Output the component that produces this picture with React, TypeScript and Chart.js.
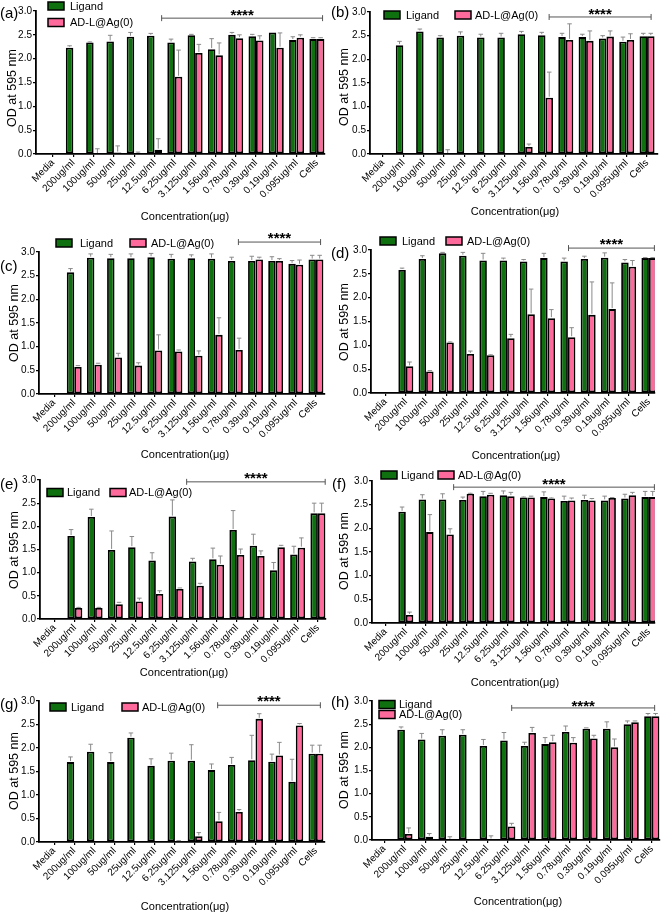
import React, { useEffect, useRef } from 'react';
import { Chart, registerables } from 'chart.js';

Chart.register(...registerables);

const FONT = "'Liberation Sans', Arial, Helvetica, sans-serif";
const GREEN = '#0e700e';
const PINK = '#ff6a9c';
const PAGE_W = 661;
const PAGE_H = 914;

const categories = [
  'Media', '200ug/ml', '100ug/ml', '50ug/ml', '25ug/ml', '12.5ug/ml', '6.25ug/ml',
  '3.125ug/ml', '1.56ug/ml', '0.78ug/ml', '0.39ug/ml', '0.19ug/ml', '0.095ug/ml', 'Cells',
];
const seriesNames = ['Ligand', 'AD-L@Ag(0)'];
const yTickStep = 0.5;
const yMax = 3.0;
const xTitle = 'Concentration(\u03bcg)';
const yTitle = 'OD at 595 nm';
const sigText = '****';

// (a)
const ligandA = [null, 2.23, 2.34, 2.36, 2.46, 2.48, 2.34, 2.49, 2.20, 2.50, 2.47, 2.55, 2.39, 2.41];
const ligandAErr = [0, 0.04, 0.01, 0.13, 0.09, 0.05, 0.07, 0.02, 0.22, 0.05, 0.04, 0.0, 0.07, 0.03];
const agA = [null, 0, 0, 0.03, 0, 0.09, 1.62, 2.12, 2.07, 2.43, 2.38, 2.23, 2.44, 2.41];
const agAErr = [0, 0, 0.11, 0.14, 0.04, 0.23, 0.56, 0.18, 0.26, 0.07, 0.10, 0.31, 0.06, 0.03];
// (b)
const ligandB = [null, 2.30, 2.59, 2.46, 2.50, 2.46, 2.46, 2.53, 2.51, 2.47, 2.47, 2.44, 2.37, 2.49];
const ligandBErr = [0, 0.08, 0.05, 0.04, 0.08, 0.07, 0.09, 0.06, 0.06, 0.08, 0.06, 0.06, 0.10, 0.06];
const agB = [null, 0, 0, 0, 0, 0, 0, 0.15, 1.19, 2.41, 2.39, 2.48, 2.41, 2.49];
const agBErr = [0, 0, 0, 0.09, 0, 0, 0, 0.06, 0.54, 0.34, 0.21, 0.12, 0.13, 0.06];
// (c)
const ligandC = [null, 2.57, 2.88, 2.87, 2.87, 2.89, 2.86, 2.87, 2.86, 2.81, 2.81, 2.81, 2.75, 2.84];
const ligandCErr = [0, 0.08, 0.08, 0.08, 0.09, 0.08, 0.09, 0.07, 0.10, 0.08, 0.10, 0.09, 0.07, 0.09];
const agC = [null, 0.57, 0.62, 0.77, 0.60, 0.92, 0.90, 0.81, 1.25, 0.93, 2.84, 2.81, 2.73, 2.84];
const agCErr = [0, 0.03, 0.03, 0.09, 0.06, 0.33, 0.03, 0.10, 0.36, 0.25, 0.05, 0.05, 0.10, 0.09];
// (d)
const ligandD = [null, 2.58, 2.81, 2.93, 2.88, 2.78, 2.78, 2.76, 2.83, 2.76, 2.81, 2.84, 2.74, 2.83];
const ligandDErr = [0, 0.04, 0.07, 0.02, 0.07, 0.15, 0.05, 0.04, 0.10, 0.07, 0.06, 0.10, 0.06, 0.01];
const agD = [null, 0.56, 0.45, 1.06, 0.82, 0.79, 1.15, 1.65, 1.57, 1.17, 1.64, 1.76, 2.65, 2.83];
const agDErr = [0, 0.09, 0.02, 0.01, 0.06, 0.01, 0.08, 0.53, 0.18, 0.20, 0.69, 0.55, 0.13, 0.01];
// (e)
const ligandE = [null, 1.79, 2.20, 1.49, 1.55, 1.26, 2.21, 1.24, 1.29, 1.92, 1.58, 1.05, 1.39, 2.28];
const ligandEErr = [0, 0.14, 0.17, 0.41, 0.23, 0.17, 0.36, 0.07, 0.24, 0.42, 0.25, 0.17, 0.18, 0.22];
const agE = [null, 0.24, 0.24, 0.32, 0.38, 0.54, 0.65, 0.72, 1.17, 1.38, 1.36, 1.55, 1.54, 2.28];
const agEErr = [0, 0.01, 0.01, 0.04, 0.07, 0.07, 0.02, 0.05, 0.19, 0.13, 0.11, 0.04, 0.21, 0.22];
// (f)
const ligandF = [null, 2.35, 2.61, 2.61, 2.60, 2.68, 2.70, 2.65, 2.66, 2.58, 2.60, 2.59, 2.63, 2.66];
const ligandFErr = [0, 0.10, 0.10, 0.12, 0.06, 0.10, 0.09, 0.01, 0.11, 0.10, 0.10, 0.09, 0.09, 0.12];
const agF = [null, 0.17, 1.92, 1.87, 2.73, 2.71, 2.68, 2.65, 2.63, 2.59, 2.59, 2.64, 2.70, 2.66];
const agFErr = [0, 0.06, 0.37, 0.12, 0.01, 0.03, 0.08, 0.03, 0.01, 0.05, 0.04, 0.01, 0.06, 0.12];
// (g)
const ligandG = [null, 1.70, 1.92, 1.70, 2.22, 1.62, 1.73, 1.73, 1.53, 1.64, 1.74, 1.71, 1.28, 1.88];
const ligandGErr = [0, 0.11, 0.16, 0.20, 0.10, 0.15, 0.16, 0.34, 0.13, 0.16, 0.53, 0.16, 0.48, 0.18];
const agG = [null, 0, 0, 0, 0, 0, 0, 0.12, 0.44, 0.64, 2.62, 1.84, 2.48, 1.88];
const agGErr = [0, 0, 0, 0, 0, 0, 0.03, 0.08, 0.19, 0.05, 0.11, 0.28, 0.04, 0.18];
// (h)
const ligandH = [null, 2.38, 2.17, 2.25, 2.27, 2.03, 2.15, 2.03, 2.07, 2.33, 2.40, 2.40, 2.50, 2.67];
const ligandHErr = [0, 0.06, 0.13, 0.13, 0.11, 0.14, 0.17, 0.08, 0.14, 0.13, 0.02, 0.15, 0.07, 0.06];
const agH = [null, 0.13, 0.07, 0, 0, 0.01, 0.29, 2.31, 2.11, 2.10, 2.19, 2.00, 2.54, 2.67];
const agHErr = [0, 0.13, 0.07, 0.07, 0, 0.08, 0.07, 0.12, 0.15, 0.11, 0.07, 0.18, 0.03, 0.06];

// significance bars: [from category, to category, line value, star value]
const sigA = [5.35, 13.28, 2.85, 2.985];
const sigB = [8.18, 13.2, 2.895, 3.04];
const sigC = [9.15, 13.23, 3.21, 3.37];
const sigD = [9.03, 13.27, 3.04, 3.21];
const sigE = [6.52, 13.36, 2.96, 3.13];
const sigF = [3.36, 13.27, 2.87, 3.02];
const sigG = [8.12, 13.22, 2.91, 3.08];
const sigH = [6.19, 13.14, 2.85, 2.98];

type LegendItem = { bx: number; by: number; tx: number };
type Panel = {
  letter: string;
  ligand: (number | null)[];
  ligandErr: number[];
  ag: (number | null)[];
  agErr: number[];
  sig: number[];
  area: { left: number; right: number; top: number; bottom: number };
  xMin: number;
  xMax: number;
  label: { x: number; y: number };
  legend: LegendItem[];
  xTitlePos: { x: number; y: number };
  yTitlePos: { x: number; y: number };
};

const panels: Panel[] = [
  {
    letter: '(a)', ligand: ligandA, ligandErr: ligandAErr, ag: agA, agErr: agAErr, sig: sigA,
    area: { left: 36, right: 325, top: 11, bottom: 154 }, xMin: -0.84, xMax: 13.4,
    label: { x: 0, y: 14 },
    legend: [{ bx: 48, by: 6, tx: 70 }, { bx: 48, by: 22.5, tx: 70 }],
    xTitlePos: { x: 185, y: 217 }, yTitlePos: { x: 13, y: 88 },
  },
  {
    letter: '(b)', ligand: ligandB, ligandErr: ligandBErr, ag: agB, agErr: agBErr, sig: sigB,
    area: { left: 370, right: 658, top: 12, bottom: 154 }, xMin: -0.64, xMax: 13.54,
    label: { x: 331, y: 12.5 },
    legend: [{ bx: 384, by: 15, tx: 406 }, { bx: 455, by: 15, tx: 475 }],
    xTitlePos: { x: 515, y: 212 }, yTitlePos: { x: 345, y: 87 },
  },
  {
    letter: '(c)', ligand: ligandC, ligandErr: ligandCErr, ag: agC, agErr: agCErr, sig: sigC,
    area: { left: 39, right: 325, top: 252, bottom: 394 }, xMin: -0.75, xMax: 13.45,
    label: { x: 0, y: 266.5 },
    legend: [{ bx: 56, by: 243, tx: 80 }, { bx: 130, by: 243, tx: 151 }],
    xTitlePos: { x: 185, y: 455 }, yTitlePos: { x: 15, y: 323 },
  },
  {
    letter: '(d)', ligand: ligandD, ligandErr: ligandDErr, ag: agD, agErr: agDErr, sig: sigD,
    area: { left: 371, right: 655, top: 250, bottom: 393 }, xMin: -0.72, xMax: 13.3,
    label: { x: 331, y: 253.5 },
    legend: [{ bx: 380, by: 241, tx: 402 }, { bx: 446, by: 241, tx: 467 }],
    xTitlePos: { x: 516, y: 456 }, yTitlePos: { x: 345, y: 322 },
  },
  {
    letter: '(e)', ligand: ligandE, ligandErr: ligandEErr, ag: agE, agErr: agEErr, sig: sigE,
    area: { left: 40, right: 326, top: 480, bottom: 619 }, xMin: -0.72, xMax: 13.4,
    label: { x: 0, y: 485 },
    legend: [{ bx: 47, by: 492.5, tx: 67 }, { bx: 110, by: 492.5, tx: 129 }],
    xTitlePos: { x: 184, y: 673 }, yTitlePos: { x: 15, y: 550 },
  },
  {
    letter: '(f)', ligand: ligandF, ligandErr: ligandFErr, ag: agF, agErr: agFErr, sig: sigF,
    area: { left: 372, right: 655, top: 481, bottom: 623 }, xMin: -0.67, xMax: 13.3,
    label: { x: 332, y: 485 },
    legend: [{ bx: 381, by: 475, tx: 401 }, { bx: 438, by: 475, tx: 458 }],
    xTitlePos: { x: 515, y: 683 }, yTitlePos: { x: 345, y: 551 },
  },
  {
    letter: '(g)', ligand: ligandG, ligandErr: ligandGErr, ag: agG, agErr: agGErr, sig: sigG,
    area: { left: 39, right: 325, top: 701, bottom: 842 }, xMin: -0.75, xMax: 13.45,
    label: { x: 0, y: 705 },
    legend: [{ bx: 50, by: 707, tx: 71 }, { bx: 122, by: 707, tx: 142 }],
    xTitlePos: { x: 185, y: 907 }, yTitlePos: { x: 15, y: 771 },
  },
  {
    letter: '(h)', ligand: ligandH, ligandErr: ligandHErr, ag: agH, agErr: agHErr, sig: sigH,
    area: { left: 372, right: 660, top: 701, bottom: 840 }, xMin: -0.6, xMax: 13.4,
    label: { x: 331, y: 702.5 },
    legend: [{ bx: 379, by: 704.5, tx: 399 }, { bx: 379, by: 714.5, tx: 399 }],
    xTitlePos: { x: 518, y: 902 }, yTitlePos: { x: 345, y: 770 },
  },
];

const Y_AXIS_W = 30;
const X_AXIS_H = 60;

function toPoints(vals: (number | null)[], errs: number[]) {
  const pts: { x: number; y: number; e: number }[] = [];
  vals.forEach((v, i) => {
    if (v !== null && v !== undefined) pts.push({ x: i, y: v, e: errs[i] || 0 });
  });
  return pts;
}

const errorBarPlugin = {
  id: 'errorBars',
  afterDatasetsDraw(chart: any) {
    const ctx = chart.ctx;
    const yScale = chart.scales.y;
    ctx.save();
    chart.data.datasets.forEach((ds: any, di: number) => {
      const meta = chart.getDatasetMeta(di);
      meta.data.forEach((el: any, j: number) => {
        const pt = ds.data[j];
        if (!pt || !pt.e) return;
        const { x, y, width } = el.getProps(['x', 'y', 'width'], true);
        const top = yScale.getPixelForValue(pt.y + pt.e);
        const cap = width * 0.3;
        ctx.strokeStyle = '#8a8a8a';
        ctx.lineWidth = 1;
        ctx.beginPath();
        ctx.moveTo(x, y - 1);
        ctx.lineTo(x, top);
        ctx.moveTo(x - cap, top);
        ctx.lineTo(x + cap, top);
        ctx.stroke();
      });
    });
    ctx.restore();
  },
};

function makeAnnotPlugin(p: Panel) {
  return {
    id: 'annot',
    afterDraw(chart: any) {
      const ctx = chart.ctx;
      const xs = chart.scales.x;
      const ys = chart.scales.y;
      ctx.save();
      // panel letter
      ctx.fillStyle = '#000';
      ctx.font = `15px ${FONT}`;
      ctx.textAlign = 'left';
      ctx.textBaseline = 'middle';
      ctx.fillText(p.letter, p.label.x, p.label.y);
      // legend
      const colors = [GREEN, PINK];
      p.legend.forEach((it, i) => {
        ctx.fillStyle = colors[i];
        ctx.fillRect(it.bx, it.by - 4, 16, 8);
        ctx.strokeStyle = '#000';
        ctx.lineWidth = 1.5;
        ctx.strokeRect(it.bx, it.by - 4, 16, 8);
        ctx.fillStyle = '#000';
        ctx.font = `11px ${FONT}`;
        ctx.textAlign = 'left';
        ctx.textBaseline = 'middle';
        ctx.fillText(seriesNames[i], it.tx, it.by + 0.5);
      });
      // significance bar
      const [from, to, lineV, starV] = p.sig;
      const x0 = xs.getPixelForValue(from);
      const x1 = xs.getPixelForValue(to);
      const ly = ys.getPixelForValue(lineV);
      ctx.strokeStyle = '#555';
      ctx.lineWidth = 1;
      ctx.beginPath();
      ctx.moveTo(x0, ly);
      ctx.lineTo(x1, ly);
      ctx.moveTo(x0, ly - 3);
      ctx.lineTo(x0, ly + 3);
      ctx.moveTo(x1, ly - 3);
      ctx.lineTo(x1, ly + 3);
      ctx.stroke();
      const sy = ys.getPixelForValue(starV);
      ctx.fillStyle = '#000';
      ctx.font = `bold 15px ${FONT}`;
      ctx.textAlign = 'center';
      ctx.textBaseline = 'alphabetic';
      ctx.fillText(sigText, (x0 + x1) / 2, sy + 0.58 * 15);
      // axis titles
      ctx.font = `11px ${FONT}`;
      ctx.textAlign = 'center';
      ctx.textBaseline = 'middle';
      ctx.fillText(xTitle, p.xTitlePos.x, p.xTitlePos.y);
      ctx.save();
      ctx.translate(p.yTitlePos.x, p.yTitlePos.y);
      ctx.rotate(-Math.PI / 2);
      ctx.font = `12.5px ${FONT}`;
      ctx.fillText(yTitle, 0, 0);
      ctx.restore();
      ctx.restore();
    },
  };
}

function PanelChart({ p }: { p: Panel }) {
  const ref = useRef<HTMLCanvasElement | null>(null);
  useEffect(() => {
    if (!ref.current) return;
    const chart = new Chart(ref.current, {
      type: 'bar',
      data: {
        datasets: [
          {
            label: seriesNames[0],
            data: toPoints(p.ligand, p.ligandErr) as any,
            backgroundColor: GREEN,
            borderColor: '#000',
            borderWidth: 1.8,
            borderSkipped: false,
            categoryPercentage: 0.74,
            barPercentage: 1.0,
          },
          {
            label: seriesNames[1],
            data: toPoints(p.ag, p.agErr) as any,
            backgroundColor: PINK,
            borderColor: '#000',
            borderWidth: 1.8,
            borderSkipped: false,
            categoryPercentage: 0.74,
            barPercentage: 1.0,
          },
        ],
      },
      options: {
        responsive: false,
        animation: false,
        maintainAspectRatio: false,
        layout: {
          padding: {
            left: p.area.left - Y_AXIS_W,
            right: PAGE_W - p.area.right,
            top: p.area.top,
            bottom: PAGE_H - p.area.bottom - X_AXIS_H,
          },
        },
        plugins: {
          legend: { display: false },
          tooltip: { enabled: false },
          title: { display: false },
        },
        scales: {
          x: {
            type: 'linear',
            min: p.xMin,
            max: p.xMax,
            offset: false,
            grid: {
              display: true,
              offset: false,
              drawOnChartArea: false,
              drawTicks: true,
              tickLength: 3,
              color: '#000',
              lineWidth: 1.2,
            },
            border: { display: true, color: '#000', width: 1.8 },
            ticks: {
              autoSkip: false,
              minRotation: 45,
              maxRotation: 45,
              padding: 0,
              color: '#000',
              font: { size: 10, family: FONT },
              callback: (v: any) => categories[Number(v)] ?? '',
            },
            afterBuildTicks: (s: any) => {
              s.ticks = categories.map((_, i) => ({ value: i }));
            },
            afterFit: (s: any) => {
              s.height = X_AXIS_H;
              s.paddingLeft = 0;
              s.paddingRight = 0;
              s.paddingTop = 0;
              s.paddingBottom = 0;
            },
          } as any,
          y: {
            type: 'linear',
            min: 0,
            max: yMax,
            grid: {
              display: true,
              drawOnChartArea: false,
              drawTicks: true,
              tickLength: 3,
              color: '#000',
              lineWidth: 1.2,
            },
            border: { display: true, color: '#000', width: 1.8 },
            ticks: {
              stepSize: yTickStep,
              padding: 1,
              color: '#000',
              font: { size: 10, family: FONT },
              callback: (v: any) => Number(v).toFixed(1),
            },
            afterFit: (s: any) => {
              s.width = Y_AXIS_W;
              s.paddingTop = 0;
              s.paddingBottom = 0;
              s.paddingLeft = 0;
              s.paddingRight = 0;
            },
          } as any,
        },
      },
      plugins: [errorBarPlugin, makeAnnotPlugin(p)],
    } as any);
    return () => chart.destroy();
  }, [p]);
  return (
    <canvas
      ref={ref}
      width={PAGE_W}
      height={PAGE_H}
      style={{ position: 'absolute', left: 0, top: 0, width: PAGE_W, height: PAGE_H }}
    />
  );
}

export default function App() {
  return (
    <div
      style={{
        position: 'absolute',
        left: 0,
        top: 0,
        width: PAGE_W,
        height: PAGE_H,
        background: '#fff',
        overflow: 'hidden',
      }}
    >
      {panels.map((p) => (
        <PanelChart key={p.letter} p={p} />
      ))}
    </div>
  );
}
